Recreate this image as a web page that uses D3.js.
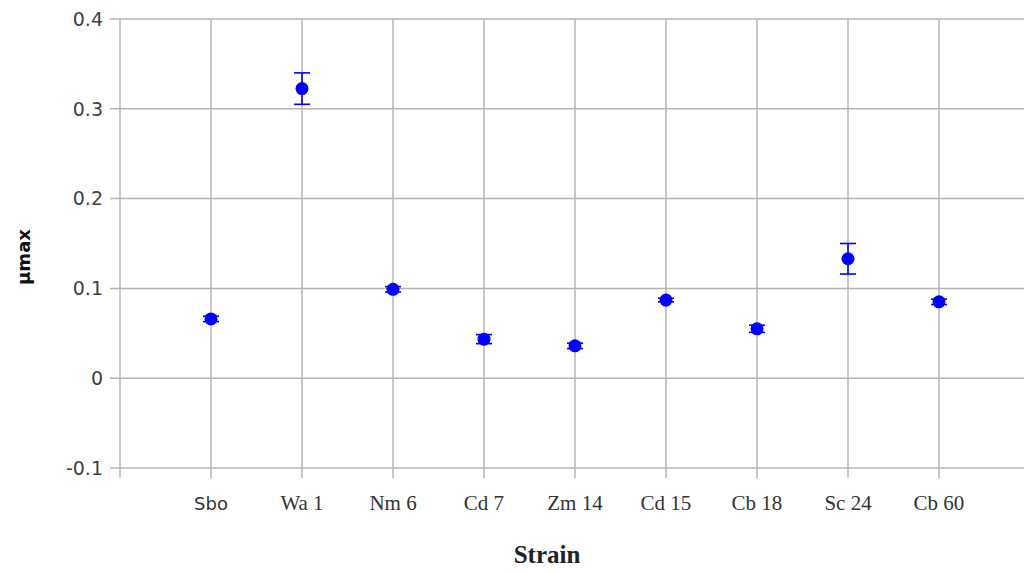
<!DOCTYPE html>
<html>
<head>
<meta charset="utf-8">
<script src="https://cdn.jsdelivr.net/npm/d3@7"></script>
<style>
  html, body { margin: 0; padding: 0; background: #fff; }
  svg { display: block; }
</style>
</head>
<body>
<svg id="chart" width="1024" height="572"></svg>
<script>
// Maximum specific growth rate per strain (mean ± error)
const strains = ["Sbo", "Wa 1", "Nm 6", "Cd 7", "Zm 14", "Cd 15", "Cb 18", "Sc 24", "Cb 60"];
const muMax   = [0.066, 0.3225, 0.099, 0.0435, 0.036, 0.087, 0.055, 0.133, 0.085];
const muErr   = [0.003, 0.0175, 0.003, 0.005, 0.003, 0.002, 0.004, 0.017, 0.003];
const yTicks  = [-0.1, 0, 0.1, 0.2, 0.3, 0.4];

const svg = d3.select("#chart");
const W = 1024;

const plotLeft = 120, plotTop = 19, plotBottom = 468;
const step = 91;

// Categories sit at positions 1..9 along a linear index axis
const x = d3.scaleLinear().domain([0, 10]).range([plotLeft, plotLeft + 10 * step]);
const y = d3.scaleLinear().domain([-0.1, 0.4]).range([plotBottom, plotTop]);

const gridColor = "#b4b4b4";

// Horizontal gridlines + y tick marks
svg.append("g").selectAll("line").data(yTicks).join("line")
  .attr("x1", plotLeft - 10).attr("x2", W)
  .attr("y1", d => y(d)).attr("y2", d => y(d))
  .attr("stroke", gridColor).attr("stroke-width", 1.5);

// Vertical gridlines (axis line at 0, one per strain) + x tick marks
const xLines = d3.range(0, 11);
svg.append("g").selectAll("line").data(xLines).join("line")
  .attr("x1", d => x(d)).attr("x2", d => x(d))
  .attr("y1", plotTop).attr("y2", plotBottom + 10)
  .attr("stroke", gridColor).attr("stroke-width", 1.5);

// Y tick labels (plain hyphen for negatives)
const fmtY = d => (d < 0 ? "-" : "") + d3.format(".1~f")(Math.abs(d));
svg.append("g").selectAll("text").data(yTicks).join("text")
  .attr("x", 103).attr("y", d => y(d))
  .attr("dy", "0.36em")
  .attr("text-anchor", "end")
  .attr("font-family", "DejaVu Sans, sans-serif")
  .attr("font-size", 19)
  .attr("fill", "#404040")
  .text(fmtY);

// X tick labels
svg.append("g").selectAll("text").data(strains).join("text")
  .attr("x", (d, i) => x(i + 1)).attr("y", 510)
  .attr("text-anchor", "middle")
  .attr("font-family", (d, i) => i === 0 ? "DejaVu Sans, sans-serif" : "Liberation Serif, serif")
  .attr("font-size", (d, i) => i === 0 ? 18 : 21)
  .attr("fill", "#333")
  .text(d => d);

// Axis titles
svg.append("text")
  .attr("transform", "translate(30,257) rotate(-90)")
  .attr("text-anchor", "middle")
  .attr("font-family", "DejaVu Sans, sans-serif")
  .attr("font-weight", "bold")
  .attr("font-size", 18)
  .attr("fill", "#111")
  .text("μmax");

svg.append("text")
  .attr("x", 547).attr("y", 563)
  .attr("text-anchor", "middle")
  .attr("font-family", "Liberation Serif, serif")
  .attr("font-weight", "bold")
  .attr("font-size", 25)
  .attr("fill", "#222")
  .text("Strain");

// Error bars
const blue = "#0000ff";
const eb = svg.append("g").attr("stroke", blue).attr("stroke-width", 1.6);
strains.forEach((s, i) => {
  const cx = x(i + 1);
  const hi = y(muMax[i] + muErr[i]);
  const lo = y(muMax[i] - muErr[i]);
  eb.append("line").attr("x1", cx).attr("x2", cx).attr("y1", hi).attr("y2", lo);
  eb.append("line").attr("x1", cx - 8).attr("x2", cx + 8).attr("y1", hi).attr("y2", hi);
  eb.append("line").attr("x1", cx - 8).attr("x2", cx + 8).attr("y1", lo).attr("y2", lo);
});

// Mean markers
svg.append("g").selectAll("circle").data(muMax).join("circle")
  .attr("cx", (d, i) => x(i + 1))
  .attr("cy", d => y(d))
  .attr("r", 6.5)
  .attr("fill", blue);
</script>
</body>
</html>
